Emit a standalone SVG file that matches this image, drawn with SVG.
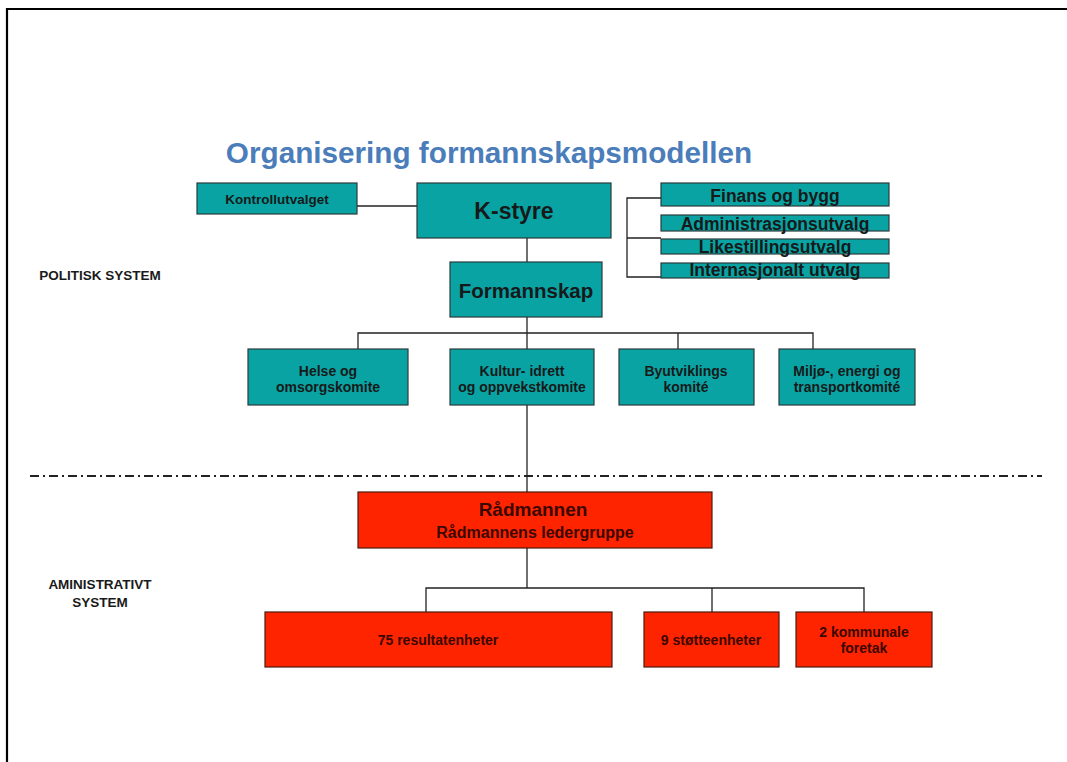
<svg xmlns="http://www.w3.org/2000/svg" width="1067" height="762" viewBox="0 0 1067 762">
<style>
text{font-family:"Liberation Sans",Arial,sans-serif;font-weight:bold;text-anchor:middle}
.teal{fill:#0aa3a3;stroke:#2b3b3b;stroke-width:1.2}
.red{fill:#ff2400;stroke:#4a1a10;stroke-width:1.2}
.tt{fill:#161a1a}
.rt{fill:#3a0800}
.ln{fill:none;stroke:#222;stroke-width:1.3}
.lbl{fill:#1a1a1a;font-size:13.5px}
</style>
<rect x="0" y="0" width="1067" height="762" fill="#fff"/>
<path d="M7 762 V9 H1067" fill="none" stroke="#000" stroke-width="2.2"/>
<text x="489" y="163" style="font-size:29.7px;fill:#4a7dba">Organisering formannskapsmodellen</text>
<text class="lbl" x="100" y="280">POLITISK SYSTEM</text>
<text class="lbl" x="100" y="589">AMINISTRATIVT</text>
<text class="lbl" x="100" y="607">SYSTEM</text>
<g id="connectors">
<line class="ln" x1="357" y1="206" x2="417" y2="206"/>
<line class="ln" x1="527" y1="238" x2="527" y2="262"/>
<path class="ln" d="M661 198 H627 V277 H661 M627 238 H661"/>
<line class="ln" x1="527" y1="317" x2="527" y2="492"/>
<path class="ln" d="M358 349 V333 H813 V349 M678 333 V349"/>
<line class="ln" x1="527" y1="548" x2="527" y2="588"/>
<path class="ln" d="M426 612 V588 H864 V612 M712 588 V612"/>
<line x1="30" y1="476" x2="1042" y2="476" stroke="#222" stroke-width="2" stroke-dasharray="9,4,2,4"/>
</g>
<g id="kontrollutvalget"><rect class="teal" x="197" y="183" width="160" height="31"/><text class="tt" x="277" y="204" style="font-size:13.5px">Kontrollutvalget</text></g>
<g id="kstyre"><rect class="teal" x="417" y="183" width="194" height="55"/><text class="tt" x="514" y="219" style="font-size:23px">K-styre</text></g>
<g id="formannskap"><rect class="teal" x="450" y="262" width="152" height="55"/><text class="tt" x="526" y="298" style="font-size:20.5px">Formannskap</text></g>
<g id="finans"><rect class="teal" x="661" y="183" width="228" height="23"/><text class="tt" x="775" y="202" style="font-size:17.5px">Finans og bygg</text></g>
<g id="admin"><rect class="teal" x="661" y="215" width="228" height="16"/><text class="tt" x="775" y="230" style="font-size:17.5px">Administrasjonsutvalg</text></g>
<g id="likestilling"><rect class="teal" x="661" y="239" width="228" height="15"/><text class="tt" x="775" y="253" style="font-size:17.5px">Likestillingsutvalg</text></g>
<g id="internasjonalt"><rect class="teal" x="661" y="263" width="228" height="15"/><text class="tt" x="775" y="276" style="font-size:17.5px">Internasjonalt utvalg</text></g>
<g id="helse"><rect class="teal" x="248" y="349" width="160" height="56"/><text class="tt" x="328" y="376" style="font-size:14px">Helse og</text><text class="tt" x="328" y="392" style="font-size:14px">omsorgskomite</text></g>
<g id="kultur"><rect class="teal" x="450" y="349" width="144" height="56"/><text class="tt" x="522" y="376" style="font-size:14px">Kultur- idrett</text><text class="tt" x="522" y="392" style="font-size:14px">og oppvekstkomite</text></g>
<g id="byutvikling"><rect class="teal" x="619" y="349" width="135" height="56"/><text class="tt" x="686" y="376" style="font-size:14px">Byutviklings</text><text class="tt" x="686" y="392" style="font-size:14px">komité</text></g>
<g id="miljo"><rect class="teal" x="779" y="349" width="136" height="56"/><text class="tt" x="847" y="376" style="font-size:14px">Miljø-, energi og</text><text class="tt" x="847" y="392" style="font-size:14px">transportkomité</text></g>
<g id="radmannen"><rect class="red" x="358" y="492" width="354" height="56"/><text class="rt" x="533" y="516" style="font-size:19px">Rådmannen</text><text class="rt" x="535" y="538" style="font-size:16px">Rådmannens ledergruppe</text></g>
<g id="resultatenheter"><rect class="red" x="265" y="612" width="347" height="55"/><text class="rt" x="438" y="645" style="font-size:14px">75 resultatenheter</text></g>
<g id="stotteenheter"><rect class="red" x="644" y="612" width="135" height="55"/><text class="rt" x="711" y="645" style="font-size:14px">9 støtteenheter</text></g>
<g id="foretak"><rect class="red" x="796" y="612" width="136" height="55"/><text class="rt" x="864" y="637" style="font-size:14px">2 kommunale</text><text class="rt" x="864" y="653" style="font-size:14px">foretak</text></g>
</svg>
